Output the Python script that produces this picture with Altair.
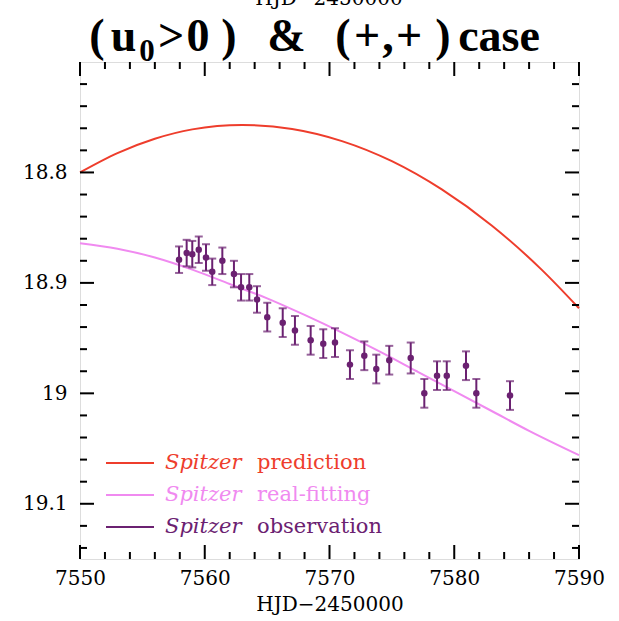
import altair as alt
import pandas as pd
import numpy as np

# ---------------- data ----------------
obs_t = [7557.94, 7558.55, 7559.00, 7559.52, 7560.10, 7560.60, 7561.41, 7562.34,
         7562.91, 7563.57, 7564.19, 7565.01, 7566.25, 7567.23, 7568.49, 7569.50,
         7570.44, 7571.64, 7572.79, 7573.75, 7574.79, 7576.51, 7577.60, 7578.62,
         7579.40, 7580.94, 7581.77, 7584.47]
obs_mag = [18.879, 18.873, 18.874, 18.870, 18.877, 18.890, 18.880, 18.892,
           18.904, 18.904, 18.915, 18.931, 18.936, 18.943, 18.952, 18.955,
           18.954, 18.974, 18.966, 18.978, 18.970, 18.968, 19.000, 18.984,
           18.984, 18.975, 19.000, 19.002]
obs_err = [0.012, 0.012, 0.012, 0.012, 0.012, 0.012, 0.012, 0.012,
           0.012, 0.012, 0.012, 0.013, 0.013, 0.013, 0.013, 0.013,
           0.013, 0.013, 0.013, 0.013, 0.013, 0.014, 0.013, 0.013,
           0.013, 0.013, 0.013, 0.013]

pred_t = [7550, 7553, 7556, 7559, 7563, 7567, 7571, 7575, 7579, 7583, 7587, 7590]
pred_mag = [18.800, 18.7825, 18.7695, 18.761, 18.757, 18.7606, 18.7716, 18.7898,
            18.8154, 18.848, 18.888, 18.923]

fit_t = [7550, 7553, 7556, 7559, 7562, 7565, 7568, 7571, 7574, 7577, 7580, 7583, 7586, 7590]
fit_mag = [18.864, 18.869, 18.877, 18.888, 18.901, 18.914, 18.929, 18.945, 18.962, 18.980, 18.998, 19.016, 19.034, 19.056]

x_major = [7550, 7560, 7570, 7580, 7590]
x_minor = [v for v in range(7550, 7591, 2) if v % 10 != 0]
y_major = [18.8, 18.9, 19.0, 19.1]
y_minor = [18.72, 18.74, 18.76, 18.78, 18.82, 18.84, 18.86, 18.88, 18.92, 18.94,
           18.96, 18.98, 19.02, 19.04, 19.06, 19.08, 19.12, 19.14]

RED = "#ee3d2c"
PINK = "#f08af0"
PURPLE = "#6b2171"
FONT = "DejaVu Serif"

W, H = 499, 497
OX, OY = 80, 62

xs = alt.Scale(domain=[7550, 7590], nice=False, zero=False)
ys = alt.Scale(domain=[18.70, 19.15], reverse=True, nice=False, zero=False)

xaxis = alt.Axis(values=x_major, ticks=False, domain=False, grid=False,
                 labelFont=FONT, labelFontSize=20, labelColor="black",
                 labelPadding=9, labelFlush=False, labelOverlap=False, format="d",
                 title="HJD−2450000", titleFont=FONT, titleFontSize=20,
                 titleFontWeight="normal", titleColor="black", titlePadding=6)
yaxis = alt.Axis(values=y_major, ticks=False, domain=False, grid=False,
                 labelFont=FONT, labelFontSize=20, labelColor="black",
                 labelPadding=13, labelFlush=False, labelOverlap=False,
                 labelExpr="datum.value + ''", title=None)

def X(f="x"):
    return alt.X(f + ":Q", scale=xs, axis=xaxis)

def Y(f="y"):
    return alt.Y(f + ":Q", scale=ys, axis=yaxis)

obs = pd.DataFrame({"x": obs_t, "y": obs_mag, "e": obs_err})
obs["lo"] = obs["y"] - obs["e"]
obs["hi"] = obs["y"] + obs["e"]
pred = pd.DataFrame({"x": pred_t, "y": pred_mag})
fit = pd.DataFrame({"x": fit_t, "y": fit_mag})

layers = []
layers.append(alt.Chart(pred).mark_line(color=RED, strokeWidth=2, interpolate="monotone").encode(x=X(), y=Y()))
layers.append(alt.Chart(fit).mark_line(color=PINK, strokeWidth=2, interpolate="monotone").encode(x=X(), y=Y()))
layers.append(alt.Chart(obs).mark_rule(color=PURPLE, strokeWidth=2).encode(x=X(), y=Y("lo"), y2="hi:Q"))
layers.append(alt.Chart(obs).mark_tick(color=PURPLE, orient="horizontal", size=8, thickness=2).encode(x=X(), y=Y("lo")))
layers.append(alt.Chart(obs).mark_tick(color=PURPLE, orient="horizontal", size=8, thickness=2).encode(x=X(), y=Y("hi")))
layers.append(alt.Chart(obs).mark_circle(color=PURPLE, size=42, opacity=1).encode(x=X(), y=Y()))

# inward ticks on all four sides
for vals, ln in [(x_major, 14), (x_minor, 7)]:
    d = pd.DataFrame({"x": vals})
    layers.append(alt.Chart(d).mark_rule(color="black", strokeWidth=2).encode(
        x=X(), y=alt.value(H), y2=alt.value(H - ln)))
    layers.append(alt.Chart(d).mark_rule(color="black", strokeWidth=2).encode(
        x=X(), y=alt.value(0), y2=alt.value(ln)))
for vals, ln in [(y_major, 14), (y_minor, 7)]:
    d = pd.DataFrame({"y": vals})
    layers.append(alt.Chart(d).mark_rule(color="black", strokeWidth=2).encode(
        y=Y(), x=alt.value(0), x2=alt.value(ln)))
    layers.append(alt.Chart(d).mark_rule(color="black", strokeWidth=2).encode(
        y=Y(), x=alt.value(W), x2=alt.value(W - ln)))

# legend
legend_rows = [("prediction", RED, 463), ("real-fitting", PINK, 495), ("observation", PURPLE, 527)]
for word, col, yy in legend_rows:
    one = pd.DataFrame({"t": ["Spitzer"], "w": [word]})
    layers.append(alt.Chart(one).mark_rule(color=col, strokeWidth=2).encode(
        x=alt.value(106 - OX), x2=alt.value(154 - OX), y=alt.value(yy - OY)))
    layers.append(alt.Chart(one).mark_text(font=FONT, fontSize=21, fontStyle="italic", color=col,
                                           align="left", baseline="middle").encode(
        x=alt.value(165 - OX), y=alt.value(yy - OY), text="t:N"))
    layers.append(alt.Chart(one).mark_text(font=FONT, fontSize=21, color=col,
                                           align="left", baseline="middle").encode(
        x=alt.value(257 - OX), y=alt.value(yy - OY), text="w:N"))

# cut-off top axis title
topt = pd.DataFrame({"t": ["HJD−2450000"]})
layers.append(alt.Chart(topt).mark_text(font=FONT, fontSize=20, color="black",
                                        align="center", baseline="alphabetic").encode(
    x=alt.value(329 - OX), y=alt.value(5 - OY), text="t:N"))

# big title, piece by piece
title_parts = [("(", 97, 51, 46), ("u", 123.5, 51, 46), ("0", 147, 61, 31), (">", 171, 51, 46),
               ("0", 198, 51, 46), (")", 229, 51, 46), ("&", 286.5, 51, 46), ("(", 343, 51, 46),
               ("+", 367, 51, 46), (",", 388, 51, 46), ("+", 409, 51, 46), (")", 443, 51, 46),
               ("case", 499, 51, 46)]
for ch, cx, by, fs in title_parts:
    one = pd.DataFrame({"t": [ch]})
    layers.append(alt.Chart(one).mark_text(font="Liberation Serif", fontSize=fs, fontWeight="bold",
                                           color="black", align="center", baseline="alphabetic").encode(
        x=alt.value(cx - OX), y=alt.value(by - OY), text="t:N"))

chart = alt.layer(*layers).properties(
    width=W, height=H,
    padding={"left": OX, "top": OY, "right": 619 - OX - W, "bottom": 621 - OY - H},
    autosize="none",
).configure_view(stroke="black", strokeWidth=2).configure(background="white")

chart.save("out.html", embed_options={"renderer": "svg", "actions": False})
